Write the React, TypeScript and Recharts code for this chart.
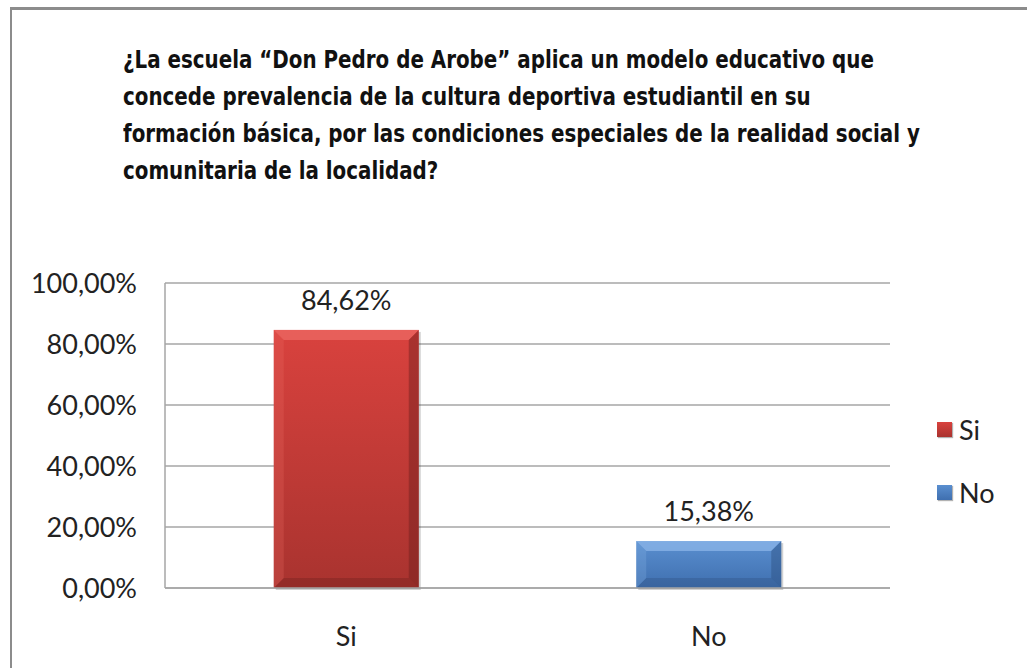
import React from 'react';
import { BarChart, Bar, XAxis, YAxis, CartesianGrid, Legend, LabelList } from 'recharts';

const categories = ['Si', 'No'];
const percentValues = [84.62, 15.38];
const yTicks = [0, 20, 40, 60, 80, 100];
const titleLines = [
  '¿La escuela “Don Pedro de Arobe” aplica un modelo educativo que',
  'concede prevalencia de la cultura deportiva estudiantil en su',
  'formación básica, por las condiciones especiales de la realidad social y',
  'comunitaria de la localidad?',
];

const palette: Record<string, { top: string; bottom: string; light: string; dark: string }> = {
  Si: { top: '#d9423e', bottom: '#a9332f', light: '#ec6a64', dark: '#6e1f1c' },
  No: { top: '#5a8fd0', bottom: '#3f6faf', light: '#8cb6e8', dark: '#2d4f80' },
};

const data = categories.map((name, i) => ({ name, value: percentValues[i] }));

const fmt = (v: number) => v.toFixed(2).replace('.', ',') + '%';

const FONT = 'Lato, "Open Sans", sans-serif';

// bevelled bar like the office chart style
const BevelBar = (props: any) => {
  const { x, y, width, height, payload } = props;
  const c = palette[payload.name];
  const b = Math.min(10, height / 3);
  return (
    <g>
      <rect x={x + 2} y={y + 2} width={width} height={height} fill="rgba(0,0,0,0.18)" />
      <rect x={x} y={y} width={width} height={height} fill={`url(#grad-${payload.name})`} />
      <polygon points={`${x},${y} ${x + width},${y} ${x + width - b},${y + b} ${x + b},${y + b}`} fill={c.light} opacity={0.75} />
      <polygon points={`${x + width},${y} ${x + width},${y + height} ${x + width - b},${y + height - b} ${x + width - b},${y + b}`} fill={c.dark} opacity={0.45} />
      <polygon points={`${x},${y + height} ${x + width},${y + height} ${x + width - b},${y + height - b} ${x + b},${y + height - b}`} fill={c.dark} opacity={0.35} />
      <polygon points={`${x},${y} ${x + b},${y + b} ${x + b},${y + height - b} ${x},${y + height}`} fill={c.light} opacity={0.25} />
    </g>
  );
};

const LegendContent = () => (
  <div style={{ fontFamily: FONT, fontSize: 27, color: '#222' }}>
    {categories.map((name) => (
      <div key={name} style={{ display: 'flex', alignItems: 'center', height: 63 }}>
        <span
          style={{
            display: 'inline-block',
            width: 15,
            height: 15,
            marginRight: 7,
            background: `linear-gradient(${palette[name].top}, ${palette[name].bottom})`,
            boxShadow: '1px 1px 1px rgba(0,0,0,0.3)',
          }}
        />
        <span>{name}</span>
      </div>
    ))}
  </div>
);

export default function App() {
  return (
    <div style={{ position: 'absolute', left: 0, top: 0, width: 1027, height: 668, background: '#fff', overflow: 'hidden' }}>
      <div
        style={{
          position: 'absolute',
          left: 10,
          top: 7,
          width: 1100,
          height: 800,
          borderTop: '3px solid #8c8c8c',
          borderLeft: '2px solid #8c8c8c',
        }}
      />
      <div
        style={{
          position: 'absolute',
          left: 123,
          top: 42,
          fontFamily: '"DejaVu Sans Condensed", sans-serif',
          fontWeight: 'bold',
          fontSize: 24,
          lineHeight: '37px',
          color: '#111',
          whiteSpace: 'nowrap',
          transform: 'scaleX(0.92)',
          transformOrigin: 'left top',
        }}
      >
        {titleLines.map((l, i) => (
          <div key={i}>{l}</div>
        ))}
      </div>
      <div style={{ position: 'absolute', left: 0, top: 0 }}>
        <BarChart
          width={1027}
          height={668}
          data={data}
          margin={{ top: 283, right: 137, bottom: 50, left: 0 }}
          barCategoryGap="30%"
        >
          <defs>
            {categories.map((name) => (
              <linearGradient key={name} id={`grad-${name}`} x1="0" y1="0" x2="0" y2="1">
                <stop offset="0%" stopColor={palette[name].top} />
                <stop offset="100%" stopColor={palette[name].bottom} />
              </linearGradient>
            ))}
          </defs>
          <CartesianGrid vertical={false} stroke="#a6a6a6" strokeWidth={1.5} />
          <XAxis
            dataKey="name"
            height={30}
            axisLine={{ stroke: '#a6a6a6', strokeWidth: 1.5 }}
            tickLine={false}
            tickSize={0}
            tickMargin={39}
            tick={{ fontFamily: FONT, fontSize: 27, fill: '#222' }}
          />
          <YAxis
            width={165}
            domain={[0, 100]}
            ticks={yTicks}
            tickFormatter={fmt}
            axisLine={{ stroke: '#a6a6a6', strokeWidth: 1.5 }}
            tickLine={false}
            tickSize={0}
            tickMargin={28}
            tick={{ fontFamily: FONT, fontSize: 27, fill: '#222' }}
          />
          <Legend
            layout="horizontal"
            verticalAlign="middle"
            content={<LegendContent />}
            wrapperStyle={{ position: 'absolute', left: 937, top: 398, width: 90 }}
          />
          <Bar dataKey="value" shape={<BevelBar />} isAnimationActive={false}>
            <LabelList
              dataKey="value"
              position="top"
              offset={20}
              formatter={(v: any) => fmt(Number(v))}
              style={{ fontFamily: FONT, fontSize: 27, fill: '#222' }}
            />
          </Bar>
        </BarChart>
      </div>
    </div>
  );
}
